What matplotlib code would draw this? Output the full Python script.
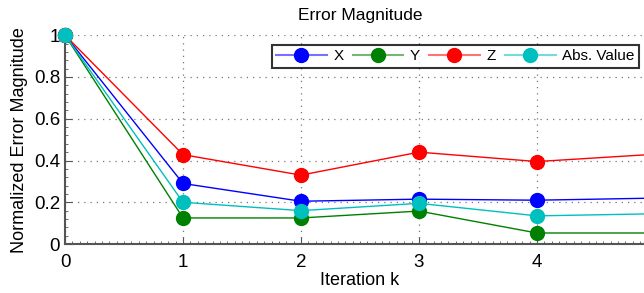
import matplotlib
matplotlib.use('Agg')
import matplotlib.pyplot as plt
from matplotlib.colors import to_rgba
from matplotlib.lines import Line2D
from matplotlib.ticker import MultipleLocator, FuncFormatter

iterations = [0, 1, 2, 3, 4, 5]
err_x = [1.0, 0.29, 0.205, 0.215, 0.21, 0.22]
err_y = [1.0, 0.125, 0.125, 0.158, 0.053, 0.053]
err_z = [1.0, 0.428, 0.33, 0.44, 0.395, 0.43]
err_abs = [1.0, 0.20, 0.16, 0.195, 0.135, 0.145]

series = [
    ('X', err_x, 'b'),
    ('Y', err_y, 'g'),
    ('Z', err_z, 'r'),
    ('Abs. Value', err_abs, 'c'),
]

plt.rcParams['font.family'] = ['Liberation Sans', 'DejaVu Sans']

fig = plt.figure(figsize=(6.44, 2.93), dpi=100)
# axes run past the right edge of the figure, like the cropped original
ax = fig.add_axes([0.101, 0.167, 0.916, 0.713])

handles = []
for name, vals, col in series:
    ax.plot(iterations, vals, '-', lw=1, color=col, marker='o', markersize=10,
            markeredgecolor=col, markerfacecolor=col, clip_on=False, zorder=3)
    handles.append(Line2D([], [], color=to_rgba(col, 0.55), lw=1.5, marker='o',
                          markersize=10, markerfacecolor=col,
                          markeredgecolor=col, label=name))

ax.set_xlim(0, 5)
ax.set_ylim(0, 1)
ax.set_xticks([0, 1, 2, 3, 4])
ax.set_yticks([0, 0.2, 0.4, 0.6, 0.8, 1.0])
ax.yaxis.set_major_formatter(FuncFormatter(lambda v, p: '%g' % v))
ax.xaxis.set_minor_locator(MultipleLocator(1 / 16))
ax.yaxis.set_minor_locator(MultipleLocator(0.04))
ax.tick_params(which='both', direction='in', colors='#555555', labelcolor='black',
               labelsize=13.5)
ax.tick_params(which='major', length=5)
ax.tick_params(which='minor', length=2.5)
ax.tick_params(axis='x', pad=7)

ax.grid(True, linestyle=(0, (1, 4)), color='#777777', lw=0.9)
for s in ['top', 'right']:
    ax.spines[s].set_visible(False)
for s in ['left', 'bottom']:
    ax.spines[s].set_color('#555555')
    ax.spines[s].set_linewidth(1.5)

ax.set_xlabel('Iteration k', fontsize=13, labelpad=1)
ax.set_ylabel('Normalized Error Magnitude', fontsize=13, labelpad=4)
ax.set_title('Error Magnitude', fontsize=12.5, pad=11)

leg = ax.legend(handles=handles, loc='upper left', bbox_to_anchor=(0.35, 0.955),
                ncol=4, fontsize=11, frameon=True, fancybox=False, borderpad=0.3,
                handlelength=3.3, handletextpad=0.45, columnspacing=0.6,
                borderaxespad=0)
leg.get_frame().set_edgecolor('black')
leg.get_frame().set_linewidth(1.5)

fig.savefig('out.png', dpi=100)
